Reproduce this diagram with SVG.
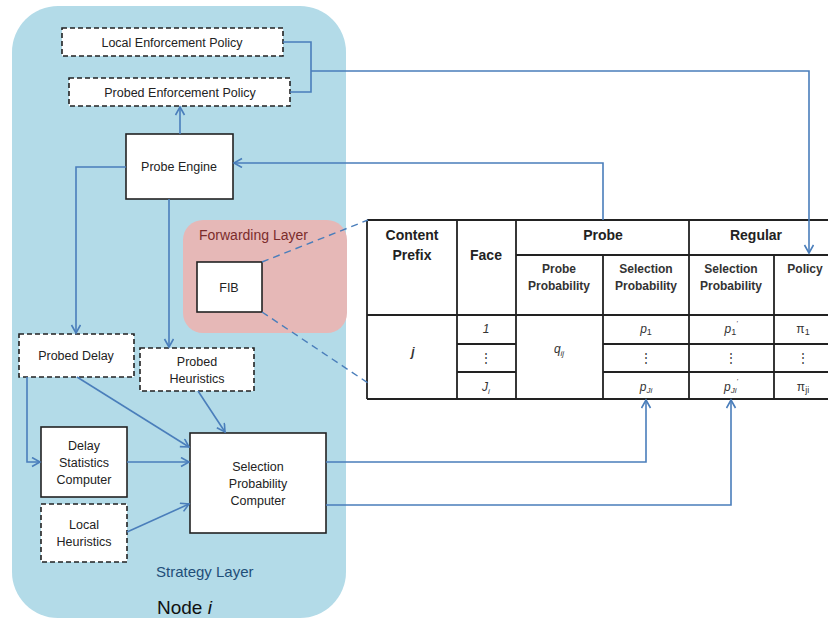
<svg xmlns="http://www.w3.org/2000/svg" width="828" height="618" viewBox="0 0 828 618">
<style>
  text { font-family: "Liberation Sans", Arial, sans-serif; fill: #222; }
  .lbl { font-size: 12.5px; text-anchor: middle; }
  .solid { fill: #fff; stroke: #222; stroke-width: 1.6; }
  .dash { fill: #fff; stroke: #222; stroke-width: 1.6; stroke-dasharray: 5 3; }
  .conn { fill: none; stroke: #4a7ebb; stroke-width: 1.6; }
  .dconn { fill: none; stroke: #4a7ebb; stroke-width: 1.4; stroke-dasharray: 7 5; }
  .tl { stroke: #222; stroke-width: 1.8; fill: none; }
  .th { font-size: 14px; font-weight: bold; text-anchor: middle; }
  .ts { font-size: 12px; font-weight: bold; text-anchor: middle; fill: #333; }
  .td { font-size: 12px; font-style: italic; text-anchor: middle; fill: #333; }
  .up { font-style: normal; }
</style>
<defs>
  <marker id="arr" markerWidth="12" markerHeight="12" refX="9" refY="5" orient="auto" markerUnits="userSpaceOnUse">
    <path d="M1,0.5 L9,5 L1,9.5" fill="none" stroke="#4a7ebb" stroke-width="1.6"/>
  </marker>
</defs>
<rect width="828" height="618" fill="#fff"/>
<g id="node-i">
  <rect x="12" y="6" width="334" height="612" rx="46" fill="#b3dbe8"/>
  <text x="156" y="577" style="font-size:15px;fill:#1f4e79">Strategy Layer</text>
  <text x="157" y="614" style="font-size:19px;fill:#111">Node <tspan font-style="italic">i</tspan></text>
</g>
<g id="forwarding-layer">
  <rect x="183" y="220" width="164" height="113" rx="20" fill="#e6b8b7"/>
  <text x="199" y="240" style="font-size:14px;fill:#7b2c2c">Forwarding Layer</text>
</g>
<g id="local-enforcement-policy">
  <rect class="dash" x="62" y="28" width="221" height="28"/>
  <text class="lbl" x="172" y="47">Local Enforcement Policy</text>
</g>
<g id="probed-enforcement-policy">
  <rect class="dash" x="69" y="78" width="221" height="28"/>
  <text class="lbl" x="180" y="97">Probed  Enforcement Policy</text>
</g>
<g id="probe-engine">
  <rect class="solid" x="126" y="134" width="107" height="65"/>
  <text class="lbl" x="179" y="171">Probe Engine</text>
</g>
<g id="fib">
  <rect class="solid" x="197" y="262" width="65" height="50"/>
  <text class="lbl" x="229" y="292">FIB</text>
</g>
<g id="probed-delay">
  <rect class="dash" x="19" y="334" width="115" height="43"/>
  <text class="lbl" x="76" y="360">Probed Delay</text>
</g>
<g id="probed-heuristics">
  <rect class="dash" x="140" y="348" width="114" height="43"/>
  <text class="lbl" x="197" y="366">Probed</text>
  <text class="lbl" x="197" y="383">Heuristics</text>
</g>
<g id="delay-statistics-computer">
  <rect class="solid" x="41" y="427" width="86" height="70"/>
  <text class="lbl" x="84" y="450">Delay</text>
  <text class="lbl" x="84" y="467">Statistics</text>
  <text class="lbl" x="84" y="484">Computer</text>
</g>
<g id="local-heuristics">
  <rect class="dash" x="41" y="504" width="86" height="58"/>
  <text class="lbl" x="84" y="529">Local</text>
  <text class="lbl" x="84" y="546">Heuristics</text>
</g>
<g id="selection-probability-computer">
  <rect class="solid" x="190" y="433" width="136" height="100"/>
  <text class="lbl" x="258" y="471">Selection</text>
  <text class="lbl" x="258" y="488">Probability</text>
  <text class="lbl" x="258" y="505">Computer</text>
</g>
<g id="fib-table">
  <rect x="367" y="220" width="470" height="179" fill="#fff"/>
  <path class="tl" d="M367,220 H828 M367,220 V399 M367,399 H828 M367,315 H828"/>
  <path class="tl" d="M457,220 V399 M516,220 V399 M689,220 V399 M603,255 V399 M774,255 V399 M516,255 H828"/>
  <path class="tl" d="M457,344 H516 M457,372 H516 M603,344 H828 M603,372 H828"/>
  <text class="th" x="412" y="240">Content</text>
  <text class="th" x="412" y="260">Prefix</text>
  <text class="th" x="486" y="260">Face</text>
  <text class="th" x="603" y="240">Probe</text>
  <text class="th" x="756" y="240">Regular</text>
  <text class="ts" x="559" y="273">Probe</text>
  <text class="ts" x="559" y="290">Probability</text>
  <text class="ts" x="646" y="273">Selection</text>
  <text class="ts" x="646" y="290">Probability</text>
  <text class="ts" x="731" y="273">Selection</text>
  <text class="ts" x="731" y="290">Probability</text>
  <text class="ts" x="805" y="273">Policy</text>
  <text class="td" x="413" y="356" font-weight="bold">j</text>
  <text class="td" x="486" y="333">1</text>
  <text class="td up" x="486" y="362">⋮</text>
  <text class="td" x="486" y="391">J<tspan font-size="8" dy="3">i</tspan></text>
  <text class="td" x="559" y="353">q<tspan font-size="8" dy="3">ij</tspan></text>
  <text class="td" x="646" y="333">p<tspan class="up" font-size="9" dy="2">1</tspan></text>
  <text class="td up" x="646" y="362">⋮</text>
  <text class="td" x="646" y="391">p<tspan font-size="8" dy="2">Ji</tspan></text>
  <text class="td" x="731" y="333">p<tspan class="up" font-size="9" dy="2">1</tspan><tspan font-size="7" dy="-9">'</tspan></text>
  <text class="td up" x="731" y="362">⋮</text>
  <text class="td" x="731" y="391">p<tspan font-size="8" dy="2">Ji</tspan><tspan font-size="7" dy="-9">'</tspan></text>
  <text class="td up" x="803" y="333">π<tspan font-size="9" dy="2">1</tspan></text>
  <text class="td up" x="803" y="362">⋮</text>
  <text class="td up" x="803" y="391">π<tspan font-size="9" dy="2">ji</tspan></text>
</g>
<g id="connectors">
  <path class="conn" d="M283,42 H311 V92 H290"/>
  <path class="conn" d="M311,71 H809 V253" marker-end="url(#arr)"/>
  <path class="conn" d="M180,134 V107" marker-end="url(#arr)"/>
  <path class="conn" d="M603,220 V163 H234" marker-end="url(#arr)"/>
  <path class="conn" d="M126,167 H76 V333" marker-end="url(#arr)"/>
  <path class="conn" d="M169,199 V347" marker-end="url(#arr)"/>
  <path class="conn" d="M27,377 V462 H40" marker-end="url(#arr)"/>
  <path class="conn" d="M77,377 L189,447" marker-end="url(#arr)"/>
  <path class="conn" d="M198,391 L225,432" marker-end="url(#arr)"/>
  <path class="conn" d="M127,462 H189" marker-end="url(#arr)"/>
  <path class="conn" d="M127,532 L189,504" marker-end="url(#arr)"/>
  <path class="conn" d="M326,462 H646 V400" marker-end="url(#arr)"/>
  <path class="conn" d="M326,505 H731 V400" marker-end="url(#arr)"/>
  <path class="dconn" d="M262,262 L368,220"/>
  <path class="dconn" d="M262,312 L368,383"/>
</g>
</svg>
